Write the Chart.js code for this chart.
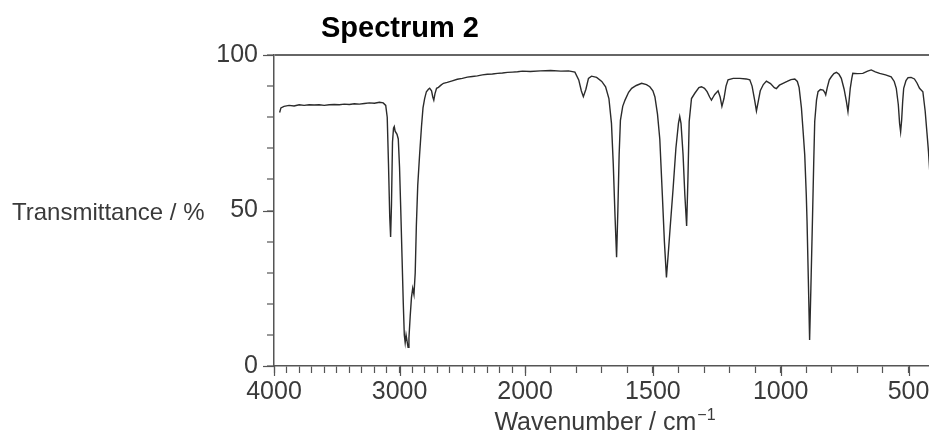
<!DOCTYPE html>
<html><head><meta charset="utf-8">
<script src="https://cdn.jsdelivr.net/npm/chart.js@4.4.1/dist/chart.umd.min.js"></script>
<style>html,body{margin:0;padding:0;background:#fff;}#wrap{width:929px;height:440px;position:relative;}</style>
</head><body><div id="wrap"><canvas id="c" width="929" height="440"></canvas></div>
<script>
// ---------- data ----------
const chartTitle = 'Spectrum 2';
const yAxisTitle = 'Transmittance / %';
const xAxisTitle = 'Wavenumber / cm';
const xAxisTitleSup = '\u22121';

const wavenumbers = [
 3955,3945,3920,3880,3840,3800,3760,3720,3680,3640,3600,3560,3520,3480,3440,3400,3360,3320,3280,3240,3200,3160,3130,
 3110,3098,3088,3078,3071,3064,3056,3048,3042,3035,3020,3010,3000,2990,2980,2970,2962,2955,2948,2940,2932,2925,2915,
 2905,2895,2885,2875,2866,2855,2840,2825,2813,2800,2786,2770,2760,2745,2735,2727,2718,2705,2690,2670,2650,2620,2580,
 2540,2500,2460,2420,2380,2340,2300,2260,2220,2180,2140,2100,2060,2020,1980,1940,1900,1860,1830,1805,1790,1780,1772,
 1762,1752,1740,1720,1700,1685,1672,1662,1655,1648,1642,1637,1632,1627,1618,1609,1595,1583,1565,1544,1525,1512,1500,
 1492,1482,1473,1463,1455,1447,1440,1432,1421,1410,1400,1395,1390,1382,1375,1368,1363,1358,1349,1336,1320,1310,1298,
 1288,1278,1271,1264,1258,1245,1237,1230,1222,1214,1206,1186,1160,1135,1121,1112,1102,1095,1088,1080,1068,1056,1040,
 1025,1017,1005,991,975,960,945,935,928,919,912,906,900,897,892,887,882,876,871,867,860,854,845,834,828,824,818,810,
 802,792,782,772,763,752,743,737,733,728,722,718,700,679,660,646,630,613,590,568,556,548,540,535,531,527,523,519,510,
 502,490,477,467,457,444,435,428,422,415
];
const transmittance = [
 81.5,83,83.5,83.8,83.6,84,83.8,84,83.9,84,83.8,84,84.1,84,84.2,84.1,84.3,84.2,84.4,84.6,84.5,84.8,84.6,
 83.8,80,65,48,41.5,52,72,76.5,77,75.5,74.5,73,64,50,35,20,10,7.5,10,8,6,9,16,
 22,25,23,30,45,58,68,77,83,86,88.2,89,89.3,88.5,86.5,85.5,87.5,89.3,89.6,90.3,90.9,91.2,91.7,
 92.2,92.5,92.9,93.1,93.3,93.6,93.8,93.9,94.1,94.2,94.4,94.5,94.6,94.8,94.7,94.9,95,94.8,94.9,94.5,92,88.5,86.6,
 89,92.5,93.2,92.8,91.5,89.8,86,78,65,48,35,50,68,79,83.5,85.5,88,89.3,90.2,90.9,90.5,89.8,88.5,
 86.5,81,73,55,40,28.5,36,45,57,70,78,80.2,78,68,55,45,60,78.6,86,87.7,89.5,89.8,89.3,
 88.2,86.5,85.5,86.5,87.3,88.5,86.5,83.5,86,90,92,92.5,92.5,92.3,92,90,85.5,82,85,88.5,90.5,91.6,90.8,
 89.5,89.2,90.3,90.9,91.5,92.1,92.3,91.5,89.5,83,75,67.8,55,46.4,28,8.4,25,46.4,65,78.6,85.5,88.2,88.9,88.7,88,87.2,89.5,92,
 93,94,94.4,93.8,92.5,89,85,81.8,85,89.3,92.5,94.1,94,94.1,94.8,95.2,94.6,94.1,93.6,93,91.5,89.3,84,78,75.3,79,85,89.3,91.8,
 92.7,92.8,92.3,91,89.3,88.2,82,75,68.9,60
];
const xTickValues = [4000,3900,3800,3700,3600,3500,3400,3300,3200,3100,3000,2900,2800,2700,2600,2500,2400,2300,2200,2100,
 2000,1900,1800,1700,1600,1500,1400,1300,1200,1100,1000,900,800,700,600,500];
const xLabeledTicks = [4000,3000,2000,1500,1000,500];
const yLabeledTicks = [0,50,100];
const xMax = 4000, xMin = 420, xBreak = 2000;

// ---------- custom split-scale (4000-2000 compressed, 2000-400 expanded) ----------
const COMP = 0.491;
class IRScale extends Chart.LinearScale {
  _warp(v){ return v >= xBreak ? (this.max - v) * COMP : (this.max - xBreak) * COMP + (xBreak - v); }
  _unwarp(t){ const b = (this.max - xBreak) * COMP; return t <= b ? this.max - t / COMP : xBreak - (t - b); }
  buildTicks(){ return xTickValues.filter(v => v >= this.min && v <= this.max).map(v => ({value: v})); }
  getPixelForValue(v){ return this.left + this._warp(v) / this._warp(this.min) * this.width; }
  getValueForPixel(p){ return this._unwarp((p - this.left) / this.width * this._warp(this.min)); }
  getPadding(){ return {left:0,right:0,top:0,bottom:0}; }
}
IRScale.id = 'irwave';
IRScale.defaults = {};
Chart.register(IRScale);

const FONT = "'Liberation Sans', Arial, Helvetica, sans-serif";
const AXIS = '#555';
const TXT = '#3a3a3a';

const decor = {
  id: 'decor',
  beforeDraw(chart){ const c = chart.ctx; c.save(); c.fillStyle='#fff'; c.fillRect(0,0,chart.width,chart.height); c.restore(); },
  afterDraw(chart){
    const c = chart.ctx, ca = chart.chartArea, ys = chart.scales.y, xs = chart.scales.x;
    c.save();
    c.strokeStyle = AXIS; c.lineWidth = 1.2;
    yLabeledTicks.forEach(v => { const p = Math.round(ys.getPixelForValue(v)) + 0.5; c.beginPath(); c.moveTo(ca.left - 11, p); c.lineTo(ca.left, p); c.stroke(); });
    xLabeledTicks.forEach(v => { const p = Math.round(xs.getPixelForValue(v)) + 0.5; c.beginPath(); c.moveTo(p, ca.bottom); c.lineTo(p, ca.bottom + 10); c.stroke(); });
    // title
    c.fillStyle = '#000'; c.font = 'bold 29px ' + FONT; c.textAlign = 'center'; c.textBaseline = 'alphabetic';
    c.fillText(chartTitle, 400, 37);
    // y title
    c.fillStyle = TXT; c.font = '24px ' + FONT; c.textAlign = 'left';
    c.fillText(yAxisTitle, 12, ys.getPixelForValue(50) + 9);
    // x title with superscript
    c.font = '25px ' + FONT; const w1 = c.measureText(xAxisTitle).width;
    c.font = '16px ' + FONT; const w2 = c.measureText(xAxisTitleSup).width;
    const x0 = 605 - (w1 + w2 + 1) / 2, base = 430;
    c.font = '25px ' + FONT; c.fillText(xAxisTitle, x0, base);
    c.font = '16px ' + FONT; c.fillText(xAxisTitleSup, x0 + w1 + 1, base - 10);
    c.restore();
  }
};

new Chart(document.getElementById('c'), {
  type: 'line',
  data: { datasets: [{
    data: wavenumbers.map((w, i) => ({x: w, y: transmittance[i]})),
    borderColor: '#2b2b2b', borderWidth: 1.4, pointRadius: 0, tension: 0, fill: false, clip: 0
  }]},
  options: {
    responsive: false, animation: false, devicePixelRatio: 1,
    layout: { padding: { top: 55, right: 0, left: 0, bottom: 0 } },
    plugins: { legend: { display: false }, tooltip: { enabled: false }, title: { display: false } },
    scales: {
      x: {
        type: 'irwave', min: xMin, max: xMax,
        afterFit: s => { s.height = 74; },
        grid: { drawOnChartArea: false, drawTicks: true, tickLength: 7, tickColor: AXIS, tickWidth: 1.2 },
        border: { display: true, color: AXIS, width: 1.5 },
        ticks: { autoSkip: false, maxRotation: 0, minRotation: 0, padding: 4, color: TXT,
          font: { family: FONT, size: 25 },
          callback: v => xLabeledTicks.includes(v) ? String(v) : '' }
      },
      y: {
        type: 'linear', min: 0, max: 100,
        afterFit: s => { s.width = 274; },
        grid: { drawOnChartArea: true, drawTicks: true, tickLength: 7, tickColor: AXIS, tickWidth: 1.2,
          color: ctx => (ctx.tick && ctx.tick.value === 100) ? '#666' : 'rgba(0,0,0,0)', lineWidth: 2 },
        border: { display: true, color: AXIS, width: 1.5 },
        ticks: { stepSize: 10, autoSkip: false, padding: 9, color: TXT, font: { family: FONT, size: 25 },
          callback: v => yLabeledTicks.includes(v) ? String(v) : '' }
      }
    }
  },
  plugins: [decor]
});
</script></body></html>
